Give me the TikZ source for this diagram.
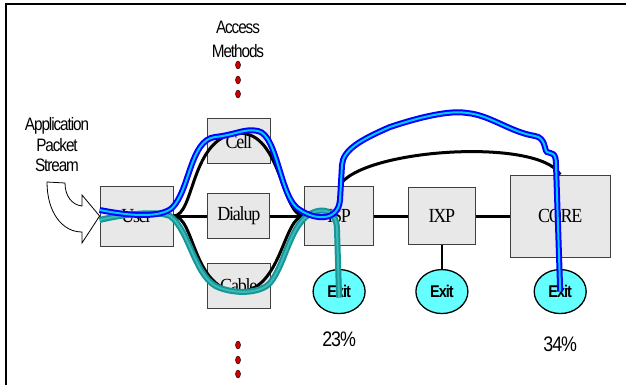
\documentclass[tikz,border=0pt]{standalone}
\usepackage{fontspec}
\setmainfont{Liberation Serif}
\newfontfamily\narrowsans[FakeStretch=0.85, LetterSpace=-6]{Liberation Sans}
\newfontfamily\pctsans[FakeStretch=0.85, LetterSpace=-5]{Liberation Sans}
\newfontfamily\narrowserif[FakeStretch=0.9, LetterSpace=-6]{Liberation Serif}
\usetikzlibrary{positioning,calc,shapes.geometric}

\definecolor{boxgray}{RGB}{232,232,232}
\definecolor{exitcyan}{RGB}{102,255,255}
\definecolor{tubeblue}{RGB}{0,0,255}
\definecolor{tubesky}{RGB}{0,204,255}
\definecolor{tubeteal}{RGB}{22,150,150}
\definecolor{tubelight}{RGB}{60,185,185}
\definecolor{dotred}{RGB}{204,0,0}

\tikzset{
	station/.style={draw=black!75, fill=boxgray, thick, inner sep=0pt, font=\narrowserif\fontsize{20}{20}\selectfont},
	exit/.style={ellipse, draw, fill=exitcyan, line width=1.3pt, minimum width=52pt, minimum height=44pt, inner sep=0pt, font=\narrowsans\bfseries\fontsize{17}{17}\selectfont},
	caption/.style={font=\narrowsans\fontsize{18}{20.5}\selectfont, align=center},
	share/.style={font=\pctsans\fontsize{21}{21}\selectfont},
	link/.style={line width=3pt},
	reddot/.style={ellipse, draw, fill=dotred, minimum width=5pt, minimum height=8pt, inner sep=0pt},
	bluetube/.style={draw=tubeblue, line width=2pt, double=tubesky, double distance=2pt},
	tealtube/.style={draw=tubeteal, line width=2pt, double=tubelight, double distance=2pt},
}

\begin{document}
\begin{tikzpicture}[x=1pt, y=1pt, node distance=34pt]
	\useasboundingbox (0,0) rectangle (626,-385);
	\draw[line width=1.5pt] (626,-4) -- (6,-4) -- (6,-385);
	\node[station, minimum width=73pt, minimum height=60pt] (user) at (136.5,-216) {User};
	\node[station, minimum width=62pt, minimum height=45pt, right=of user] (dialup) {Dialup};
	\node[station, minimum width=69pt, minimum height=59pt, right=of dialup] (isp) {ISP};
	\node[station, minimum width=67pt, minimum height=57pt, right=of isp] (ixp) {IXP};
	\node[station, minimum width=100pt, minimum height=82pt, right=of ixp] (core) {CORE};
	\node[station, minimum width=63pt, minimum height=45pt, above=29pt of dialup] (cell) {Cell};
	\node[station, minimum width=63pt, minimum height=45pt, below=24pt of dialup] (cable) {Cable};
	\node[exit, below=23pt of isp] (exitA) {Exit};
	\node[exit] (exitB) at (ixp |- exitA) {Exit};
	\node[exit] (exitC) at (core |- exitA) {Exit};
	\node[share, below=14pt of exitA] (shareA) {23\%};
	\node[share, below=19pt of exitC] (shareC) {34\%};
	\node[caption, font=\narrowsans\fontsize{18}{24}\selectfont] (access) at (238,-39) {Access\\Methods};
	\node[caption] (app) at (57,-145) {Application\\Packet\\Stream};
	\foreach \y in {65,80,94,345,360,374}
		\node[reddot] at (238,-\y) {};
	% stream arrow into the user
	\draw[fill=white, line width=0.8pt] (47,-182) -- (65,-183) .. controls (65,-196) and (72,-205) .. (82,-206)
		-- (82,-195) -- (user.west) -- (82,-243) -- (82,-232) .. controls (62,-232) and (47,-212) .. cycle;
	\draw[link] (user) -- (dialup) -- (isp) -- (ixp) -- (core);
	\draw[link] (user.east) .. controls (195,-216) and (190,-136) .. ($(cell.center)+(0,8)$)
		.. controls (282,-132) and (281,-216) .. (isp.west);
	\draw[link] (user.east) .. controls (195,-216) and (192,-290) .. ($(cable.center)+(0,-6)$)
		.. controls (282,-291) and (283,-216) .. (isp.west);
	\draw[link] (isp.north) to[out=60, in=120, looseness=0.5] (core.north);
	\draw[line width=2pt] (ixp) -- (exitB);
	\draw[tealtube] ($(user.west)+(0,-4)$) .. controls (120,-215) and (155,-210) .. (170,-216)
		.. controls (190,-230) and (195,-280) .. (220,-288)
		.. controls (240,-295) and (262,-292) .. (270,-283)
		.. controls (285,-265) and (290,-225) .. (310,-214)
		.. controls (325,-206) and (337,-212) .. (337,-230)
		-- ($(exitA.center)+(0,-6)$);
	\draw[bluetube] ($(user.west)+(0,6)$) .. controls (130,-216) and (160,-218) .. (172,-208)
		.. controls (190,-190) and (190,-140) .. (215,-137)
		.. controls (235,-135) and (245,-128) .. (258,-131)
		.. controls (278,-135) and (280,-200) .. (300,-210)
		.. controls (315,-220) and (338,-222) .. (340,-200)
		-- (342,-165)
		.. controls (343,-150) and (360,-140) .. (390,-127)
		.. controls (420,-117) and (450,-110) .. (467,-113)
		.. controls (490,-115) and (510,-132) .. (535,-136)
		.. controls (546,-138) and (544,-150) .. (547,-152)
		.. controls (552,-154) and (556,-152) .. (556,-165)
		-- (exitC.center);
\end{tikzpicture}
\end{document}
